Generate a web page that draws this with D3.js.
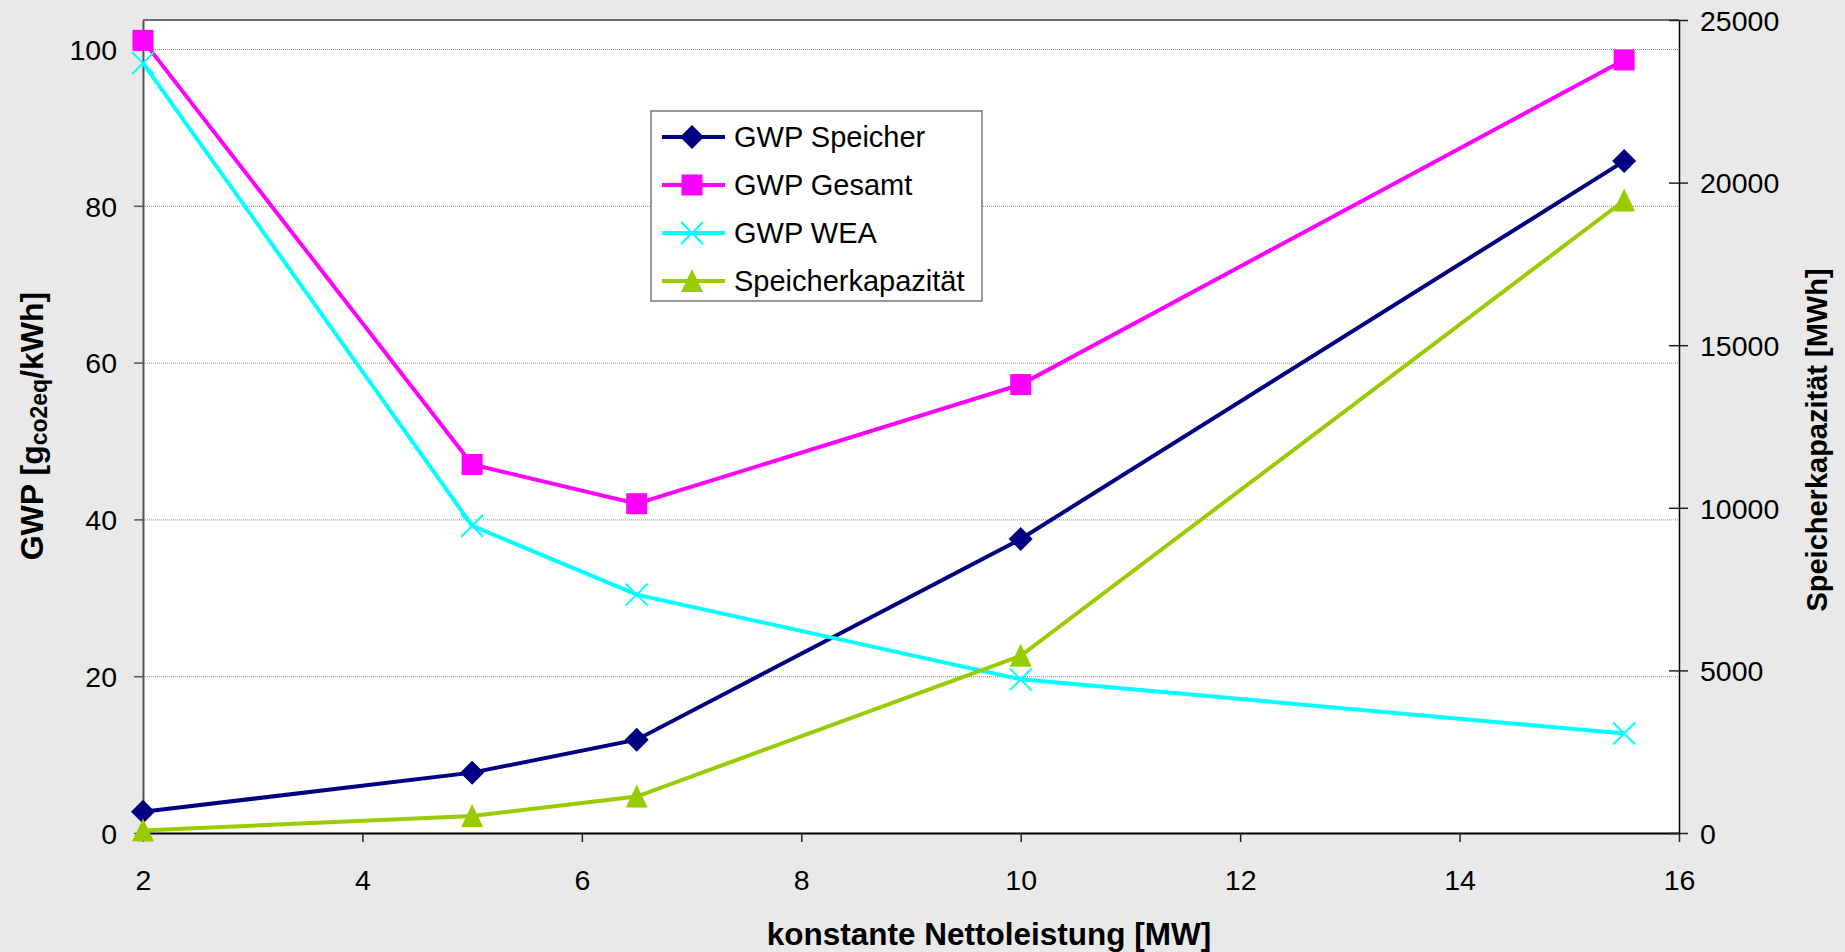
<!DOCTYPE html>
<html>
<head>
<meta charset="utf-8">
<script src="https://cdn.jsdelivr.net/npm/d3@7"></script>
<style>
  html, body { margin: 0; padding: 0; background: #e9e9e9; }
  svg { display: block; font-family: Arial, "Liberation Sans", sans-serif; }
</style>
</head>
<body>
<div id="chart"></div>
<script>
// data
const nettoleistung = [2, 5, 6.5, 10, 15.5];
const gwpSpeicher = [2.7, 7.7, 11.9, 37.5, 85.7];
const gwpGesamt = [101.1, 47.0, 42.0, 57.2, 98.6];
const gwpWea = [98.2, 39.2, 30.4, 19.6, 12.7];
const speicherkapazitaet = [80, 520, 1120, 5450, 19450];

const seriesNames = ['GWP Speicher', 'GWP Gesamt', 'GWP WEA', 'Speicherkapazität'];
const xTicks = [2, 4, 6, 8, 10, 12, 14, 16];
const leftTicks = [0, 20, 40, 60, 80, 100];
const rightTicks = [0, 5000, 10000, 15000, 20000, 25000];

const width = 1845;
const height = 952;
const margin = { top: 20, bottom: 119, left: 143, right: 166 };

const svg = d3.select('#chart')
  .append('svg')
  .attr('width', width)
  .attr('height', height);

svg.append('rect')
  .attr('width', width)
  .attr('height', height)
  .attr('fill', '#e9e9e9');

const x = d3.scaleLinear()
  .domain([2, 16])
  .range([margin.left, width - margin.right]);

const yLeft = d3.scaleLinear()
  .domain([0, 103.7])
  .range([height - margin.bottom, margin.top]);

const yRight = d3.scaleLinear()
  .domain([0, 25000])
  .range([height - margin.bottom, margin.top]);

// plot area
svg.append('rect')
  .attr('x', margin.left)
  .attr('y', margin.top)
  .attr('width', width - margin.left - margin.right)
  .attr('height', height - margin.top - margin.bottom)
  .attr('fill', '#fff');

// gridlines
svg.append('g')
  .selectAll('line')
  .data(leftTicks.filter(d => d > 0))
  .join('line')
    .attr('x1', margin.left)
    .attr('x2', width - margin.right)
    .attr('y1', d => yLeft(d) + 0.5)
    .attr('y2', d => yLeft(d) + 0.5)
    .attr('stroke', '#8c8c8c')
    .attr('stroke-width', 1)
    .attr('stroke-dasharray', '1,1');

// top border
svg.append('line')
  .attr('x1', margin.left)
  .attr('x2', width - margin.right)
  .attr('y1', margin.top)
  .attr('y2', margin.top)
  .attr('stroke', '#6e6e6e')
  .attr('stroke-width', 2);

function yAxisLeft(g) {
  g.attr('transform', `translate(${margin.left},0)`)
    .call(d3.axisLeft(yLeft).tickValues(leftTicks).tickSize(9).tickSizeOuter(0).tickPadding(17))
    .attr('font-size', '28.5px')
    .attr('font-family', 'Arial, "Liberation Sans", sans-serif');
  g.select('.domain').attr('stroke', '#555').attr('stroke-width', 2);
  g.selectAll('.tick line').attr('stroke', '#555').attr('stroke-width', 1.5);
  g.selectAll('.tick text').attr('fill', '#000').attr('dy', '0.36em');
}

function yAxisRight(g) {
  g.attr('transform', `translate(${width - margin.right},0)`)
    .call(d3.axisRight(yRight).tickValues(rightTicks).tickFormat(d3.format('d'))
      .tickSize(9).tickSizeOuter(0).tickPadding(12))
    .attr('font-size', '28.5px')
    .attr('font-family', 'Arial, "Liberation Sans", sans-serif');
  g.select('.domain').attr('stroke', '#000').attr('stroke-width', 1.5);
  g.selectAll('.tick line').attr('x1', -10).attr('stroke', '#222').attr('stroke-width', 1.5);
  g.selectAll('.tick text').attr('fill', '#000').attr('dy', '0.36em');
}

function xAxis(g) {
  g.attr('transform', `translate(0,${height - margin.bottom})`)
    .call(d3.axisBottom(x).tickValues(xTicks).tickSize(9).tickSizeOuter(0).tickPadding(28))
    .attr('font-size', '28.5px')
    .attr('font-family', 'Arial, "Liberation Sans", sans-serif');
  g.select('.domain').attr('stroke', '#000').attr('stroke-width', 2);
  g.selectAll('.tick line').attr('stroke', '#222').attr('stroke-width', 1.5);
  g.selectAll('.tick text').attr('fill', '#000');
}

svg.append('g').call(xAxis);
svg.append('g').call(yAxisLeft);
svg.append('g').call(yAxisRight);

// markers
const markers = {
  diamond: 'M0,-12L12,0L0,12L-12,0Z',
  square: 'M-10.5,-10.5H10.5V10.5H-10.5Z',
  triangle: 'M0,-12L11,11H-11Z',
  cross: 'M-11,-11L11,11M11,-11L-11,11'
};

const series = [
  { name: seriesNames[0], values: gwpSpeicher, y: yLeft, color: '#000080', marker: 'diamond' },
  { name: seriesNames[1], values: gwpGesamt, y: yLeft, color: '#ff00ff', marker: 'square' },
  { name: seriesNames[2], values: gwpWea, y: yLeft, color: '#00ffff', marker: 'cross' },
  { name: seriesNames[3], values: speicherkapazitaet, y: yRight, color: '#99cc00', marker: 'triangle' }
];

function drawMarker(sel, s) {
  if (s.marker === 'cross') {
    sel.attr('d', markers.cross).attr('fill', 'none').attr('stroke', s.color).attr('stroke-width', 2);
  } else {
    sel.attr('d', markers[s.marker]).attr('fill', s.color);
  }
}

series.forEach(s => {
  const pts = nettoleistung.map((d, i) => [d, s.values[i]]);
  const line = d3.line()
    .x(d => x(d[0]))
    .y(d => s.y(d[1]));

  svg.append('path')
    .datum(pts)
    .attr('fill', 'none')
    .attr('stroke', s.color)
    .attr('stroke-width', 4)
    .attr('d', line);

  svg.append('g')
    .selectAll('path')
    .data(pts)
    .join('path')
      .attr('transform', d => `translate(${x(d[0])},${s.y(d[1])})`)
      .call(sel => drawMarker(sel, s));
});

// legend
const legend = svg.append('g').attr('transform', 'translate(651,111)');
legend.append('rect')
  .attr('width', 331)
  .attr('height', 190)
  .attr('fill', '#fff')
  .attr('stroke', '#777')
  .attr('stroke-width', 1.5);

series.forEach((s, i) => {
  const row = legend.append('g').attr('transform', `translate(0,${26 + i * 48})`);
  row.append('line')
    .attr('x1', 11).attr('x2', 74)
    .attr('stroke', s.color)
    .attr('stroke-width', 4);
  row.append('path')
    .attr('transform', 'translate(41,0)')
    .call(sel => drawMarker(sel, s));
  row.append('text')
    .attr('x', 83)
    .attr('dy', '0.36em')
    .attr('font-size', '29px')
    .text(s.name);
});

// axis titles
svg.append('text')
  .attr('x', 989)
  .attr('y', 945)
  .attr('text-anchor', 'middle')
  .attr('font-size', '31.5px')
  .attr('font-weight', 'bold')
  .text('konstante Nettoleistung [MW]');

const leftTitle = svg.append('text')
  .attr('transform', 'translate(43,426) rotate(-90)')
  .attr('text-anchor', 'middle')
  .attr('font-size', '32px')
  .attr('font-weight', 'bold');
leftTitle.append('tspan').text('GWP [g');
leftTitle.append('tspan').attr('font-size', '23px').attr('dy', 4).text('co2eq');
leftTitle.append('tspan').attr('dy', -4).text('/kWh]');

svg.append('text')
  .attr('transform', 'translate(1827,440) rotate(-90)')
  .attr('text-anchor', 'middle')
  .attr('font-size', '29px')
  .attr('font-weight', 'bold')
  .text('Speicherkapazität [MWh]');
</script>
</body>
</html>
